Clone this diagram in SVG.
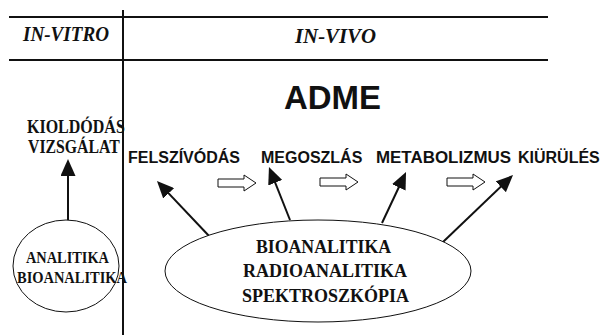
<svg xmlns="http://www.w3.org/2000/svg" width="602" height="335" viewBox="0 0 602 335">
<style>
.hdr{font-family:"Liberation Serif","Times New Roman",serif;font-weight:bold;font-style:italic;font-size:20px;fill:#111}
.sans{font-family:"Liberation Sans",Arial,sans-serif;font-weight:bold;fill:#111}
.ser{font-family:"Liberation Serif","Times New Roman",serif;font-weight:bold;fill:#111}
.rule{stroke:#111;stroke-width:2;fill:none}
.conn{stroke:#111;stroke-width:2;fill:none;marker-end:url(#ah)}
.ell{fill:#fff;stroke:#111;stroke-width:1}
.hollow{fill:#fff;stroke:#111;stroke-width:1}
</style>
<defs>
<marker id="ah" viewBox="0 0 17 15" refX="12" refY="7.5" markerWidth="17" markerHeight="15" markerUnits="userSpaceOnUse" orient="auto">
<path d="M0,0 L17,7.5 L0,15 Z" fill="#111"/>
</marker>
<path id="harrow" d="M0,-4 H26 V-8 L38,0 L26,8 V4 H0 Z"/>
</defs>
<rect width="602" height="335" fill="#fff"/>
<g id="grid">
<line class="rule" x1="9" y1="17" x2="548" y2="17"/>
<line class="rule" x1="9" y1="60" x2="548" y2="60"/>
<line class="rule" x1="123" y1="10" x2="123" y2="335"/>
</g>
<g id="headers">
<text class="hdr" x="23" y="41" textLength="86" lengthAdjust="spacingAndGlyphs">IN-VITRO</text>
<text class="hdr" x="295" y="43" textLength="81" lengthAdjust="spacingAndGlyphs">IN-VIVO</text>
</g>
<g id="adme"><text class="sans" x="284" y="109" font-size="33" textLength="97" lengthAdjust="spacingAndGlyphs">ADME</text></g>
<g id="kioldodas">
<text class="ser" font-size="18" transform="translate(27,133) scale(0.89,1)">KIOLDÓDÁS</text>
<text class="ser" font-size="18" transform="translate(28,153) scale(0.877,1)">VIZSGÁLAT</text>
</g>
<g id="felszivodas"><text class="sans" x="128" y="163" font-size="16">FELSZÍVÓDÁS</text></g>
<g id="megoszlas"><text class="sans" x="261" y="163" font-size="16">MEGOSZLÁS</text></g>
<g id="metabolizmus"><text class="sans" x="376" y="163" font-size="16" textLength="135" lengthAdjust="spacingAndGlyphs">METABOLIZMUS</text></g>
<g id="kiurules"><text class="sans" x="518" y="163" font-size="16">KIÜRÜLÉS</text></g>
<g id="flow">
<use href="#harrow" class="hollow" transform="translate(218,183)"/>
<use href="#harrow" class="hollow" transform="translate(320,182)"/>
<use href="#harrow" class="hollow" transform="translate(447,182)"/>
</g>
<g id="connectors">
<line class="conn" x1="68" y1="220" x2="68" y2="164"/>
<line class="conn" x1="210" y1="237" x2="160.4" y2="184.6"/>
<line class="conn" x1="290" y1="220" x2="270.8" y2="171.6"/>
<line class="conn" x1="382" y1="223" x2="403.9" y2="176.5"/>
<line class="conn" x1="443" y1="242" x2="509.4" y2="178.5"/>
</g>
<g id="analitika">
<ellipse class="ell" cx="66" cy="266" rx="53" ry="46" style="fill:none"/>
<text class="ser" x="26" y="263" font-size="16" textLength="83" lengthAdjust="spacingAndGlyphs">ANALITIKA</text>
<text class="ser" x="17" y="283" font-size="16" textLength="110" lengthAdjust="spacingAndGlyphs">BIOANALITIKA</text>
</g>
<g id="bioanalitika">
<ellipse class="ell" cx="318" cy="271" rx="153" ry="51"/>
<text class="ser" x="256" y="253" font-size="18" textLength="135" lengthAdjust="spacingAndGlyphs">BIOANALITIKA</text>
<text class="ser" x="243" y="277" font-size="18" textLength="164" lengthAdjust="spacingAndGlyphs">RADIOANALITIKA</text>
<text class="ser" x="242" y="302" font-size="18">SPEKTROSZKÓPIA</text>
</g>
</svg>
